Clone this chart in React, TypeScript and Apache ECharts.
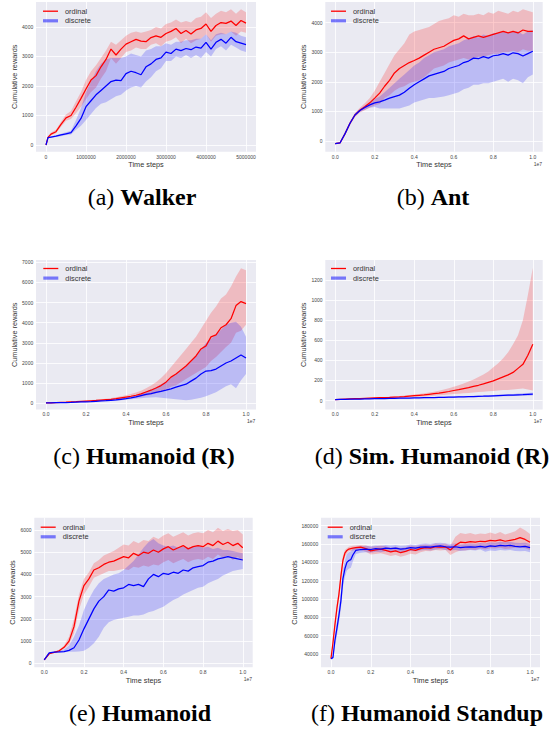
import React, { useEffect, useRef } from "react";
import * as echarts from "echarts";

// ---------- x sample positions ----------
const X_WALKER = [0, 50000, 125000, 250000, 375000, 500000, 625000, 750000, 875000, 1000000, 1125000, 1250000, 1375000, 1500000, 1625000, 1750000, 1875000, 2000000, 2125000, 2250000, 2375000, 2500000, 2625000, 2750000, 2875000, 3000000, 3125000, 3250000, 3375000, 3500000, 3625000, 3750000, 3875000, 4000000, 4125000, 4250000, 4375000, 4500000, 4625000, 4750000, 4875000, 5000000];
const X_UNIT = [0, 0.025, 0.05, 0.075, 0.1, 0.125, 0.15, 0.175, 0.2, 0.225, 0.25, 0.275, 0.3, 0.325, 0.35, 0.375, 0.4, 0.425, 0.45, 0.475, 0.5, 0.525, 0.55, 0.575, 0.6, 0.625, 0.65, 0.675, 0.7, 0.725, 0.75, 0.775, 0.8, 0.825, 0.85, 0.875, 0.9, 0.925, 0.95, 0.975, 1.0];
const X_STANDUP = [0, 0.01, 0.02, 0.03, 0.04, 0.05, 0.06, 0.07, 0.08, 0.09, 0.1, 0.11, 0.125, 0.15, 0.175, 0.2, 0.225, 0.25, 0.275, 0.3, 0.325, 0.35, 0.375, 0.4, 0.425, 0.45, 0.475, 0.5, 0.525, 0.55, 0.575, 0.6, 0.625, 0.65, 0.675, 0.7, 0.725, 0.75, 0.775, 0.8, 0.825, 0.85, 0.875, 0.9, 0.925, 0.95, 0.975, 1.0];

// ---------- (a) Walker ----------
const WALKER_ORD = [0, 260, 370, 450, 700, 920, 1000, 1280, 1580, 1900, 2200, 2350, 2650, 2900, 3250, 3050, 3250, 3420, 3500, 3580, 3520, 3500, 3640, 3700, 3650, 3780, 3850, 3950, 3780, 3880, 3760, 3900, 3950, 4100, 3850, 4050, 4150, 4120, 4200, 4050, 4220, 4130];
const WALKER_ORD_HI = [0, 290, 420, 520, 790, 1030, 1150, 1480, 1800, 2200, 2500, 2700, 2950, 3200, 3500, 3400, 3550, 3700, 3800, 3850, 3800, 3850, 3900, 4000, 3950, 4100, 4150, 4250, 4150, 4200, 4150, 4300, 4350, 4500, 4300, 4450, 4550, 4500, 4600, 4450, 4600, 4500];
const WALKER_ORD_LO = [0, 230, 330, 400, 620, 820, 880, 1080, 1300, 1550, 1800, 1950, 2250, 2500, 2950, 2750, 2950, 3150, 3200, 3300, 3250, 3250, 3400, 3450, 3350, 3500, 3550, 3650, 3450, 3600, 3450, 3550, 3600, 3750, 3500, 3700, 3750, 3750, 3850, 3700, 3850, 3800];
const WALKER_DIS = [0, 250, 270, 300, 340, 380, 420, 650, 900, 1300, 1500, 1700, 1850, 2000, 2150, 2200, 2180, 2420, 2500, 2450, 2380, 2650, 2750, 2900, 2950, 3150, 3100, 3250, 3200, 3270, 3230, 3320, 3280, 3480, 3250, 3480, 3580, 3450, 3650, 3500, 3450, 3400];
const WALKER_DIS_HI = [0, 270, 290, 330, 380, 430, 480, 850, 1250, 1800, 2150, 2500, 2750, 2900, 2950, 2950, 2950, 3000, 3100, 3050, 3000, 3200, 3250, 3350, 3350, 3450, 3400, 3500, 3500, 3550, 3550, 3600, 3600, 3750, 3550, 3750, 3800, 3750, 3850, 3800, 3700, 3650];
const WALKER_DIS_LO = [0, 230, 250, 270, 300, 340, 360, 520, 650, 850, 1050, 1250, 1400, 1450, 1550, 1650, 1700, 1850, 1950, 2000, 1950, 2150, 2300, 2500, 2600, 2850, 2850, 3000, 2950, 3050, 2950, 3050, 2950, 3150, 3000, 3250, 3350, 3200, 3400, 3300, 3200, 3150];

// ---------- (b) Ant ----------
const ANT_ORD = [-90, -60, 250, 600, 880, 1040, 1160, 1290, 1450, 1620, 1850, 2050, 2300, 2450, 2550, 2650, 2720, 2800, 2900, 3000, 3100, 3150, 3200, 3300, 3400, 3450, 3550, 3450, 3500, 3550, 3500, 3550, 3600, 3650, 3700, 3650, 3700, 3650, 3750, 3700, 3700];
const ANT_ORD_HI = [-70, -40, 290, 660, 950, 1120, 1280, 1450, 1700, 2000, 2300, 2600, 2900, 3100, 3300, 3600, 3700, 3750, 3800, 3850, 3950, 4050, 4100, 4150, 4250, 4200, 4300, 4250, 4250, 4300, 4250, 4350, 4300, 4400, 4350, 4300, 4400, 4350, 4450, 4400, 4350];
const ANT_ORD_LO = [-110, -80, 210, 540, 810, 960, 1040, 1130, 1200, 1250, 1450, 1550, 1700, 1800, 1850, 1950, 2000, 2050, 2150, 2300, 2450, 2500, 2550, 2650, 2700, 2750, 2800, 2750, 2800, 2850, 2850, 2900, 2950, 2950, 3000, 3000, 3050, 3000, 3100, 3050, 3050];
const ANT_DIS = [-90, -60, 250, 600, 880, 1030, 1130, 1220, 1290, 1320, 1380, 1450, 1500, 1550, 1650, 1780, 1900, 2000, 2100, 2200, 2250, 2300, 2350, 2450, 2500, 2550, 2650, 2700, 2800, 2780, 2850, 2800, 2880, 2900, 2950, 2900, 2980, 2950, 2870, 2950, 3030];
const ANT_DIS_HI = [-70, -40, 290, 650, 930, 1080, 1200, 1300, 1420, 1500, 1650, 1800, 1950, 2100, 2250, 2400, 2550, 2650, 2800, 2900, 3000, 3050, 3100, 3200, 3250, 3300, 3400, 3450, 3550, 3500, 3600, 3550, 3650, 3650, 3700, 3650, 3700, 3700, 3600, 3700, 3750];
const ANT_DIS_LO = [-110, -80, 210, 550, 830, 980, 1060, 1120, 1150, 1100, 1100, 1100, 1100, 1100, 1150, 1200, 1300, 1350, 1400, 1450, 1450, 1480, 1500, 1550, 1600, 1650, 1750, 1800, 1900, 1900, 1950, 1950, 2000, 2050, 2100, 2000, 2100, 2050, 1950, 2150, 2250];

// ---------- (c) Humanoid (R) ----------
const HUMR_ORD = [20, 25, 35, 45, 55, 70, 80, 95, 110, 125, 140, 160, 180, 200, 230, 270, 310, 350, 400, 470, 560, 650, 760, 880, 1050, 1300, 1450, 1650, 1850, 2100, 2350, 2700, 2850, 3300, 3400, 3750, 3900, 4200, 4850, 5050, 4950];
const HUMR_ORD_HI = [30, 35, 45, 60, 70, 90, 100, 120, 140, 160, 180, 200, 230, 260, 300, 350, 400, 460, 530, 620, 750, 880, 1050, 1250, 1500, 1800, 2100, 2400, 2700, 3000, 3300, 3700, 4100, 4500, 4800, 5200, 5400, 5800, 6300, 6700, 6600];
const HUMR_ORD_LO = [10, 15, 25, 30, 40, 50, 60, 70, 80, 90, 100, 120, 130, 150, 170, 200, 230, 260, 290, 330, 380, 430, 500, 580, 680, 820, 900, 1050, 1200, 1350, 1500, 1650, 1800, 2100, 2300, 2550, 2800, 3000, 3500, 3600, 3900];
const HUMR_DIS = [20, 22, 28, 32, 38, 45, 55, 65, 75, 85, 100, 115, 130, 150, 170, 200, 230, 270, 320, 380, 440, 480, 540, 590, 650, 720, 800, 880, 950, 1100, 1250, 1450, 1600, 1620, 1700, 1850, 2000, 2100, 2250, 2400, 2250];
const HUMR_DIS_HI = [30, 30, 35, 40, 48, 55, 65, 78, 90, 100, 120, 140, 160, 180, 210, 250, 290, 340, 400, 480, 580, 680, 800, 950, 1100, 1250, 1450, 1650, 1850, 2050, 2350, 2650, 3000, 3200, 3400, 3650, 3900, 4000, 4050, 3800, 3300];
const HUMR_DIS_LO = [10, 14, 20, 24, 28, 35, 45, 52, 60, 70, 80, 90, 100, 120, 130, 150, 170, 200, 220, 250, 280, 290, 300, 270, 250, 220, 200, 170, 150, 180, 230, 280, 350, 450, 550, 700, 850, 950, 750, 1150, 1450];

// ---------- (d) Sim. Humanoid (R) ----------
const SIMR_ORD = [10, 12, 14, 16, 18, 20, 22, 24, 26, 28, 30, 32, 35, 37, 40, 44, 48, 52, 56, 62, 68, 74, 82, 90, 100, 108, 118, 128, 140, 152, 165, 180, 195, 215, 235, 255, 280, 320, 360, 450, 560];
const SIMR_ORD_HI = [12, 14, 16, 18, 20, 23, 25, 28, 30, 33, 36, 39, 43, 46, 50, 55, 60, 66, 72, 80, 88, 98, 110, 122, 138, 152, 170, 190, 210, 235, 260, 290, 330, 370, 420, 480, 560, 650, 800, 1050, 1320];
const SIMR_ORD_LO = [8, 10, 12, 14, 16, 17, 19, 20, 22, 23, 25, 26, 28, 29, 31, 33, 36, 38, 40, 44, 48, 52, 56, 60, 65, 68, 72, 76, 80, 85, 88, 92, 96, 100, 104, 106, 110, 115, 120, 110, 100];
const SIMR_DIS = [10, 11, 12, 13, 14, 15, 16, 17, 18, 19, 20, 21, 22, 23, 24, 25, 26, 27, 28, 29, 30, 31, 32, 33, 34, 36, 37, 39, 40, 42, 43, 45, 47, 49, 51, 53, 55, 57, 59, 62, 64];
const SIMR_DIS_HI = [12, 13, 14, 15, 16, 17, 18, 19, 20, 22, 23, 24, 25, 26, 28, 29, 30, 31, 33, 34, 35, 37, 38, 39, 41, 43, 44, 46, 48, 50, 52, 54, 56, 59, 61, 64, 66, 69, 72, 76, 80];
const SIMR_DIS_LO = [8, 9, 10, 11, 12, 13, 14, 15, 16, 17, 18, 18, 19, 20, 21, 22, 23, 24, 24, 25, 26, 27, 27, 28, 29, 30, 31, 32, 33, 35, 36, 37, 39, 40, 42, 43, 45, 46, 47, 49, 51];

// ---------- (e) Humanoid ----------
const HUM_ORD = [150, 430, 490, 560, 720, 1000, 1650, 2800, 3500, 3800, 4200, 4300, 4450, 4550, 4600, 4700, 4800, 4750, 4950, 4850, 5000, 4950, 5100, 5000, 5150, 5250, 5100, 5200, 5300, 5150, 5250, 5300, 5250, 5400, 5300, 5500, 5350, 5450, 5300, 5400, 5200];
const HUM_ORD_HI = [170, 460, 520, 600, 800, 1200, 2000, 3100, 3800, 4100, 4500, 4650, 4850, 4950, 5050, 5200, 5350, 5300, 5500, 5400, 5550, 5500, 5700, 5600, 5750, 5850, 5700, 5800, 5900, 5750, 5850, 5900, 5850, 6000, 5900, 6100, 5950, 6050, 5950, 6000, 5800];
const HUM_ORD_LO = [130, 400, 460, 520, 650, 850, 1350, 2400, 3100, 3450, 3850, 3950, 4050, 4150, 4150, 4200, 4250, 4200, 4350, 4300, 4400, 4350, 4450, 4400, 4550, 4650, 4500, 4600, 4700, 4550, 4650, 4700, 4650, 4800, 4700, 4900, 4750, 4850, 4650, 4800, 4600];
const HUM_DIS = [150, 470, 500, 510, 530, 580, 700, 1050, 1550, 2000, 2450, 2800, 3000, 3300, 3250, 3350, 3400, 3550, 3500, 3550, 3450, 3800, 4000, 3900, 4050, 4000, 4100, 4050, 4200, 4150, 4300, 4350, 4400, 4550, 4600, 4700, 4750, 4800, 4750, 4700, 4650];
const HUM_DIS_HI = [170, 500, 530, 560, 620, 800, 1200, 1700, 2400, 2900, 3300, 3600, 3800, 3900, 4000, 4050, 4200, 4400, 4600, 4900, 5200, 5450, 5600, 5400, 5300, 5250, 5300, 5200, 5250, 5200, 5250, 5300, 5200, 5250, 5150, 5200, 5100, 5100, 5050, 5000, 4950];
const HUM_DIS_LO = [130, 440, 470, 480, 500, 520, 520, 530, 560, 700, 900, 1200, 1600, 1850, 1950, 2000, 2050, 2100, 2150, 2150, 2200, 2300, 2350, 2450, 2550, 2700, 2850, 2950, 3100, 3200, 3300, 3400, 3450, 3600, 3700, 3800, 3950, 4050, 4150, 4200, 4250];

// ---------- (f) Humanoid Standup ----------
const STAND_ORD = [35000, 52000, 72000, 90000, 105000, 125000, 142000, 150000, 153000, 154500, 155000, 155500, 156000, 156500, 155000, 152500, 153500, 154500, 153000, 151500, 152500, 150500, 152000, 154000, 153000, 155000, 156000, 155500, 157000, 156500, 157000, 153500, 158500, 162000, 161500, 162500, 162000, 163000, 162500, 164000, 163500, 164500, 163000, 164000, 165000, 167000, 165000, 162000];
const STAND_ORD_HI = [36000, 55000, 76000, 95000, 110000, 131000, 147000, 153500, 155500, 157000, 157500, 158000, 158500, 159000, 158500, 157000, 157500, 158500, 157500, 156000, 157000, 155500, 156500, 158500, 157500, 159000, 159500, 159000, 160500, 160000, 160500, 158000, 168000, 172000, 171000, 172000, 170500, 171500, 171000, 172500, 171000, 173000, 170500, 172000, 174000, 178000, 175000, 171000];
const STAND_ORD_LO = [34500, 49000, 68000, 85000, 100000, 119000, 137000, 146000, 150000, 152000, 152500, 153000, 153500, 153500, 151500, 148500, 149000, 150000, 148500, 147000, 148000, 146000, 147500, 149500, 148500, 151000, 152500, 152000, 153500, 153000, 153500, 148000, 151000, 153000, 153000, 154000, 153500, 155000, 154000, 155500, 155000, 156000, 154500, 155000, 156000, 156500, 155500, 153500];
const STAND_DIS = [35000, 36000, 55000, 68000, 82000, 98000, 122000, 133000, 140000, 142000, 143000, 148000, 153000, 154000, 154500, 154000, 155000, 154500, 155500, 155000, 155500, 154500, 155000, 156000, 155500, 156500, 157000, 156500, 157500, 158000, 157000, 156500, 157000, 156000, 156500, 157000, 156500, 157500, 156500, 158000, 157500, 158500, 158000, 158500, 157500, 157000, 157500, 156000];
const STAND_DIS_HI = [36000, 38000, 61000, 76000, 90000, 107000, 131000, 142000, 149000, 151000, 152000, 155000, 157000, 157500, 158000, 157500, 158500, 158000, 159000, 158500, 159000, 158000, 158500, 159500, 159000, 160000, 160500, 160000, 161000, 161500, 160500, 160000, 160500, 159500, 160000, 160500, 160000, 161000, 160500, 162000, 161500, 162500, 162000, 162500, 161500, 161000, 161500, 160000];
const STAND_DIS_LO = [34000, 34500, 49000, 60000, 74000, 89000, 113000, 124000, 131000, 133000, 134000, 141000, 149000, 150500, 151000, 150500, 151500, 151000, 152000, 151500, 152000, 151000, 151500, 152500, 152000, 153000, 153500, 153000, 154000, 154500, 153500, 153000, 153500, 152500, 153000, 153500, 153000, 154000, 151500, 153000, 152500, 153500, 153000, 153500, 152500, 152000, 152500, 151000];

// ---------- ticks ----------
const X_TICKS_WALKER = [0, 1000000, 2000000, 3000000, 4000000, 5000000];
const X_TICKS_UNIT = [0, 0.2, 0.4, 0.6, 0.8, 1.0];
const Y_TICKS_WALKER = [0, 1000, 2000, 3000, 4000];
const Y_TICKS_ANT = [0, 1000, 2000, 3000, 4000];
const Y_TICKS_HUMR = [0, 1000, 2000, 3000, 4000, 5000, 6000, 7000];
const Y_TICKS_SIMR = [0, 200, 400, 600, 800, 1000, 1200];
const Y_TICKS_HUM = [0, 1000, 2000, 3000, 4000, 5000, 6000];
const Y_TICKS_STAND = [40000, 60000, 80000, 100000, 120000, 140000, 160000, 180000];

// ---------- text ----------
const SERIES_NAMES = ["ordinal", "discrete"];
const X_NAME = "Time steps";
const Y_NAME = "Cumulative rewards";
const OFFSET_TEXT = "1e7";
const CAPTION_LETTERS = ["(a)", "(b)", "(c)", "(d)", "(e)", "(f)"];
const CAPTION_TITLES = ["Walker", "Ant", "Humanoid (R)", "Sim. Humanoid (R)", "Humanoid", "Humanoid Standup"];

const SANS = "'Liberation Sans', Arial, Helvetica, sans-serif";
const SERIF = "'Liberation Serif', 'Times New Roman', Times, serif";
const RED = "#ff0000";
const BLUE = "#0000ff";
const RED_BAND = "rgba(255,0,0,0.2)";
const BLUE_BAND = "rgba(0,0,255,0.2)";

type Panel = {
  left: number; right: number; top: number; bottom: number;
  xMin: number; xMax: number; yMin: number; yMax: number;
  xTicks: number[]; yTicks: number[]; unitX: boolean;
  xs: number[];
  ord: number[]; ordHi: number[]; ordLo: number[];
  dis: number[]; disHi: number[]; disLo: number[];
  yNameGap: number; capX: number; capY: number; legLeft: number; legTop: number;
};

const PANELS: Panel[] = [
  { left: 36, right: 256, top: 2, bottom: 151.7, xMin: -250000, xMax: 5250000, yMin: -227, yMax: 4846,
    xTicks: X_TICKS_WALKER, yTicks: Y_TICKS_WALKER, unitX: false, xs: X_WALKER,
    ord: WALKER_ORD, ordHi: WALKER_ORD_HI, ordLo: WALKER_ORD_LO, dis: WALKER_DIS, disHi: WALKER_DIS_HI, disLo: WALKER_DIS_LO,
    yNameGap: 15.6, capX: 142, capY: 197, legLeft: 43, legTop: 7.7 },
  { left: 325.3, right: 542.7, top: 2, bottom: 151.7, xMin: -0.05, xMax: 1.05, yMin: -360, yMax: 4695,
    xTicks: X_TICKS_UNIT, yTicks: Y_TICKS_ANT, unitX: true, xs: X_UNIT,
    ord: ANT_ORD, ordHi: ANT_ORD_HI, ordLo: ANT_ORD_LO, dis: ANT_DIS, disHi: ANT_DIS_HI, disLo: ANT_DIS_LO,
    yNameGap: 16.3, capX: 433, capY: 197, legLeft: 331, legTop: 7.7 },
  { left: 36, right: 256, top: 260, bottom: 409.5, xMin: -0.05, xMax: 1.05, yMin: -308, yMax: 7114,
    xTicks: X_TICKS_UNIT, yTicks: Y_TICKS_HUMR, unitX: true, xs: X_UNIT,
    ord: HUMR_ORD, ordHi: HUMR_ORD_HI, ordLo: HUMR_ORD_LO, dis: HUMR_DIS, disHi: HUMR_DIS_HI, disLo: HUMR_DIS_LO,
    yNameGap: 16.3, capX: 144, capY: 455.5, legLeft: 43.3, legTop: 265 },
  { left: 325.3, right: 542.7, top: 260, bottom: 409.5, xMin: -0.05, xMax: 1.05, yMin: -89, yMax: 1398,
    xTicks: X_TICKS_UNIT, yTicks: Y_TICKS_SIMR, unitX: true, xs: X_UNIT,
    ord: SIMR_ORD, ordHi: SIMR_ORD_HI, ordLo: SIMR_ORD_LO, dis: SIMR_DIS, disHi: SIMR_DIS_HI, disLo: SIMR_DIS_LO,
    yNameGap: 16.3, capX: 432, capY: 455.5, legLeft: 331, legTop: 265 },
  { left: 34.3, right: 252.7, top: 517.7, bottom: 667.3, xMin: -0.05, xMax: 1.05, yMin: -180, yMax: 6554,
    xTicks: X_TICKS_UNIT, yTicks: Y_TICKS_HUM, unitX: true, xs: X_UNIT,
    ord: HUM_ORD, ordHi: HUM_ORD_HI, ordLo: HUM_ORD_LO, dis: HUM_DIS, disHi: HUM_DIS_HI, disLo: HUM_DIS_LO,
    yNameGap: 16.6, capX: 140, capY: 713, legLeft: 40.7, legTop: 523.7 },
  { left: 321, right: 540, top: 517.7, bottom: 667.3, xMin: -0.05, xMax: 1.05, yMin: 25500, yMax: 188700,
    xTicks: X_TICKS_UNIT, yTicks: Y_TICKS_STAND, unitX: true, xs: X_STANDUP,
    ord: STAND_ORD, ordHi: STAND_ORD_HI, ordLo: STAND_ORD_LO, dis: STAND_DIS, disHi: STAND_DIS_HI, disLo: STAND_DIS_LO,
    yNameGap: 22.3, capX: 427, capY: 713, legLeft: 327.7, legTop: 523.7 },
];

// Shaded min/max band: one polygon built from the data through the axis scales (api.coord)
function bandSeries(i: number, xs: number[], lo: number[], hi: number[], color: string, name: string) {
  return {
    type: "custom", name, xAxisIndex: i, yAxisIndex: i, silent: true, z: 1,
    emphasis: { disabled: true },
    data: xs.map((x, k) => [x, lo[k], hi[k]]),
    encode: { x: 0, y: [1, 2] },
    renderItem: (params: any, api: any) => {
      if (params.dataIndex !== 0) return { type: "group", children: [] };
      const upper = xs.map((x, k) => api.coord([x, hi[k]]));
      const lower = xs.map((x, k) => api.coord([x, lo[k]])).reverse();
      return {
        type: "polygon", silent: true,
        shape: { points: upper.concat(lower) },
        style: { fill: color, stroke: "none" },
      };
    },
  };
}

function lineSeries(i: number, xs: number[], ys: number[], name: string, color: string, z: number) {
  return {
    type: "line", name, xAxisIndex: i, yAxisIndex: i, symbol: "none", z,
    emphasis: { disabled: true },
    data: xs.map((x, k) => [x, ys[k]]),
    lineStyle: { color, width: 1.25 }, itemStyle: { color },
  };
}

function buildOption() {
  const grid = PANELS.map((p) => ({
    left: p.left, top: p.top, width: p.right - p.left, height: p.bottom - p.top,
    show: true, backgroundColor: "#EAEAF2", borderWidth: 0, containLabel: false, outerBoundsMode: "none",
  }));
  const xAxis = PANELS.map((p, i) => ({
    type: "value", gridIndex: i, min: p.xMin, max: p.xMax,
    axisLine: { show: false },
    axisTick: { show: false, customValues: p.xTicks },
    axisLabel: {
      customValues: p.xTicks, fontSize: 5, color: "#444", margin: 2.3, fontFamily: SANS,
      formatter: (v: number) => (p.unitX ? v.toFixed(1) : String(Math.round(v))),
    },
    splitLine: { show: true, lineStyle: { color: "#ffffff", width: 0.8 } },
    name: X_NAME, nameLocation: "middle", nameGap: 9.6,
    nameTextStyle: { fontSize: 7.3, color: "#333", fontFamily: SANS },
  }));
  const yAxis = PANELS.map((p, i) => ({
    type: "value", gridIndex: i, min: p.yMin, max: p.yMax,
    axisLine: { show: false },
    axisTick: { show: false, customValues: p.yTicks },
    axisLabel: {
      customValues: p.yTicks, fontSize: 5, color: "#444", margin: 2.8, fontFamily: SANS,
      formatter: (v: number) => String(Math.round(v)),
    },
    splitLine: { show: true, lineStyle: { color: "#ffffff", width: 0.8 } },
    name: Y_NAME, nameLocation: "middle", nameGap: p.yNameGap,
    nameTextStyle: { fontSize: 7.3, color: "#333", fontFamily: SANS },
  }));
  const series: any[] = [];
  PANELS.forEach((p, i) => {
    series.push(bandSeries(i, p.xs, p.ordLo, p.ordHi, RED_BAND, "ordinal band"));
    series.push(bandSeries(i, p.xs, p.disLo, p.disHi, BLUE_BAND, "discrete band"));
  });
  PANELS.forEach((p, i) => {
    series.push(lineSeries(i, p.xs, p.ord, SERIES_NAMES[0], RED, 3));
    series.push(lineSeries(i, p.xs, p.dis, SERIES_NAMES[1], BLUE, 4));
  });
  const legend = PANELS.map((p) => ({
    left: p.legLeft, top: p.legTop, orient: "vertical", padding: 0,
    itemWidth: 15, itemHeight: 8, itemGap: 2.6, symbolKeepAspect: true, selectedMode: false,
    itemStyle: { borderWidth: 0 },
    textStyle: { fontSize: 7.4, color: "#333", fontFamily: SANS, padding: [0, 0, 0, 2] },
    data: [
      { name: SERIES_NAMES[0], icon: "path://M0,0H15V1.3H0Z", itemStyle: { color: RED, borderWidth: 0 } },
      { name: SERIES_NAMES[1], icon: "path://M0,0H15V3.2H0Z", itemStyle: { color: "rgba(0,0,255,0.5)", borderWidth: 0 } },
    ],
  }));
  const graphic: any[] = [];
  PANELS.forEach((p, i) => {
    graphic.push({
      type: "text", x: p.capX, y: p.capY, silent: true,
      style: {
        text: "{n|" + CAPTION_LETTERS[i] + "} {b|" + CAPTION_TITLES[i] + "}",
        fontFamily: SERIF, fontSize: 24, fill: "#000", align: "center", verticalAlign: "middle",
        rich: {
          n: { fontFamily: SERIF, fontSize: 24, fill: "#000" },
          b: { fontFamily: SERIF, fontSize: 24, fontWeight: "bold", fill: "#000" },
        },
      },
    });
    if (p.unitX) {
      graphic.push({
        type: "text", x: p.right - 4.8, y: p.bottom + 11.8, silent: true,
        style: { text: OFFSET_TEXT, fontFamily: SANS, fontSize: 5, fill: "#444", align: "center", verticalAlign: "middle" },
      });
    }
  });
  return {
    animation: false,
    backgroundColor: "#ffffff",
    textStyle: { fontFamily: SANS },
    grid, xAxis, yAxis, series, legend, graphic,
  };
}

export default function App() {
  const ref = useRef<HTMLDivElement>(null);
  useEffect(() => {
    if (!ref.current) return;
    const chart = echarts.init(ref.current, null, { renderer: "svg" });
    chart.setOption(buildOption() as any);
    return () => chart.dispose();
  }, []);
  return (
    <div
      ref={ref}
      style={{ position: "fixed", left: 0, top: 0, width: 552, height: 729, background: "#fff" }}
    />
  );
}
